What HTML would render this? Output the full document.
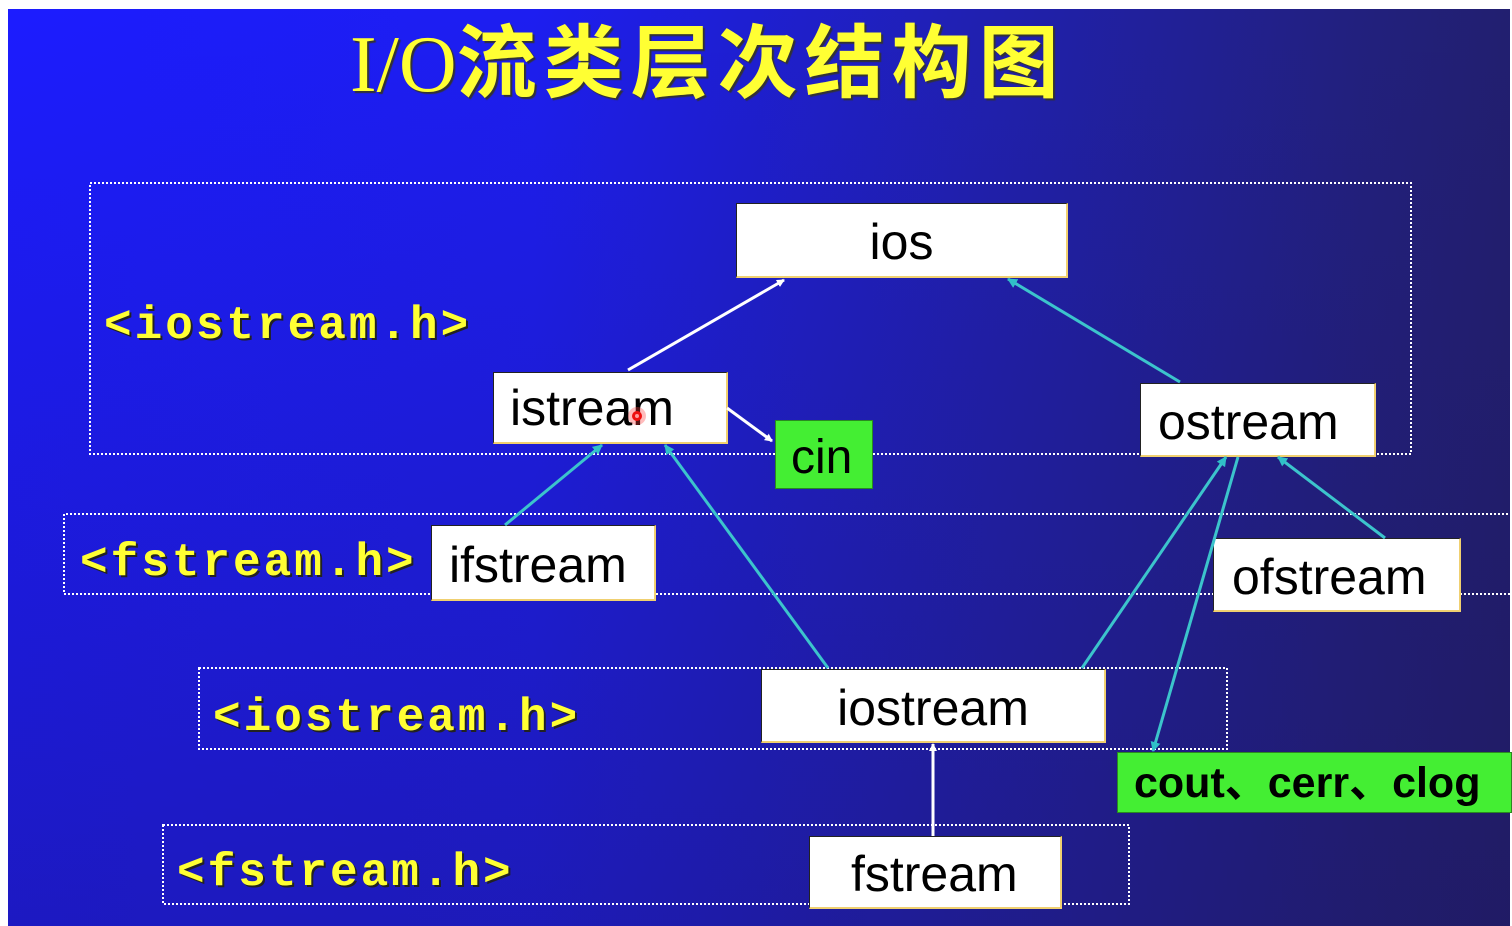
<!DOCTYPE html>
<html><head><meta charset="utf-8"><style>
html,body{margin:0;padding:0}
body{width:1512px;height:926px;position:relative;overflow:hidden;background:#fff}
#bg{position:absolute;left:8px;top:9px;width:1502px;height:917px;
background:linear-gradient(to bottom,rgba(0,0,0,0) 0%,rgba(30,20,80,.35) 100%),linear-gradient(to right,#1c1cff 0%,#1d1ef0 35%,#2020b0 65%,#22207e 90%,#221f70 100%);}
.box{position:absolute;background:#fff;box-sizing:border-box;border:1px solid #222;border-right:2px solid #f0d070;border-bottom:2px solid #f0d070;font-family:"Liberation Sans",sans-serif;color:#000;font-size:50px;line-height:1}
.green{position:absolute;background:#44ee33;font-family:"Liberation Sans",sans-serif;color:#000;line-height:1;box-sizing:border-box;border:1px solid #2a8a20}
.lbl{position:absolute;font-family:"Liberation Mono",monospace;font-weight:bold;color:#ffff33;font-size:46px;letter-spacing:3px;text-shadow:2px 2px 0 #222;white-space:nowrap;line-height:1}
.title{position:absolute;left:350px;top:24px;color:#ffff33;font-size:80px;white-space:nowrap;line-height:1;text-shadow:2px 2px 1px #333}
</style></head><body>
<div id="bg"></div>
<div class="title"><span style="font-family:'Liberation Serif',serif">I/O</span><span style="font-family:'Liberation Sans','Noto Sans CJK SC',sans-serif;font-weight:bold;letter-spacing:7px">流类层次结构图</span></div>

<svg width="1512" height="926" style="position:absolute;left:0;top:0">
<g fill="none" stroke="#fff" stroke-width="2" stroke-dasharray="2 2">
<rect x="90" y="183" width="1321" height="271"/>
<polyline points="1512,514 64,514 64,594 1512,594"/>
<rect x="199" y="668" width="1028" height="81"/>
<rect x="163" y="825" width="966" height="79"/>
</g>
</svg>

<div class="lbl" style="left:104px;top:303px">&lt;iostream.h&gt;</div>
<div class="lbl" style="left:80px;top:540px">&lt;fstream.h&gt;</div>
<div class="lbl" style="left:213px;top:695px">&lt;iostream.h&gt;</div>
<div class="lbl" style="left:177px;top:850px">&lt;fstream.h&gt;</div>

<div class="box" style="left:736px;top:203px;width:332px;height:75px;text-align:center;padding-top:13px;padding-left:0">ios</div>
<div class="box" style="left:493px;top:372px;width:235px;height:72px;padding:10px 0 0 16px">istream</div>
<div class="box" style="left:1140px;top:383px;width:236px;height:74px;padding:13px 0 0 17px">ostream</div>
<div class="box" style="left:431px;top:525px;width:225px;height:76px;padding:14px 0 0 17px">ifstream</div>
<div class="box" style="left:1213px;top:538px;width:248px;height:74px;padding:13px 0 0 18px">ofstream</div>
<div class="box" style="left:761px;top:669px;width:345px;height:74px;text-align:center;padding-top:13px">iostream</div>
<div class="box" style="left:809px;top:836px;width:253px;height:73px;padding:12px 0 0 41px">fstream</div>
<div class="green" style="left:775px;top:420px;width:98px;height:69px;font-size:48px;padding:13px 0 0 15px">cin</div>
<div class="green" style="left:1117px;top:752px;width:395px;height:61px;font-size:43px;font-weight:bold;padding:9px 0 0 16px;white-space:nowrap;font-family:'Liberation Sans','Noto Sans CJK SC',sans-serif">cout、cerr、clog</div>

<svg width="1512" height="926" style="position:absolute;left:0;top:0">
<defs>
<marker id="aw" markerWidth="8" markerHeight="8" refX="7" refY="4" orient="auto" markerUnits="userSpaceOnUse" viewBox="0 0 8 8"><path d="M0,0 L8,4 L0,8 z" fill="#fff"/></marker>
<marker id="ac" markerWidth="10" markerHeight="10" refX="9" refY="5" orient="auto" markerUnits="userSpaceOnUse" viewBox="0 0 10 10"><path d="M0,0 L10,5 L0,10 z" fill="#30c0c8"/></marker>
</defs>
<g stroke="#fff" stroke-width="3" fill="none" marker-end="url(#aw)">
<line x1="628" y1="370" x2="784" y2="280"/>
<line x1="727" y1="408" x2="772" y2="441"/>
<line x1="933" y1="836" x2="933" y2="744"/>
</g>
<g stroke="#3cc4cc" stroke-width="3" fill="none" marker-end="url(#ac)">
<line x1="1180" y1="382" x2="1008" y2="279"/>
<line x1="505" y1="525" x2="602" y2="445"/>
<line x1="828" y1="668" x2="665" y2="445"/>
<line x1="1082" y1="668" x2="1226" y2="457"/>
<line x1="1238" y1="457" x2="1153" y2="751"/>
<line x1="1385" y1="538" x2="1278" y2="457"/>
</g>
<circle cx="637" cy="416" r="9" fill="#ff4040" opacity=".35"/>
<circle cx="637" cy="416" r="5" fill="#ee1111"/>
<circle cx="637" cy="416" r="2" fill="#ff9999"/>
</svg>
</body></html>
